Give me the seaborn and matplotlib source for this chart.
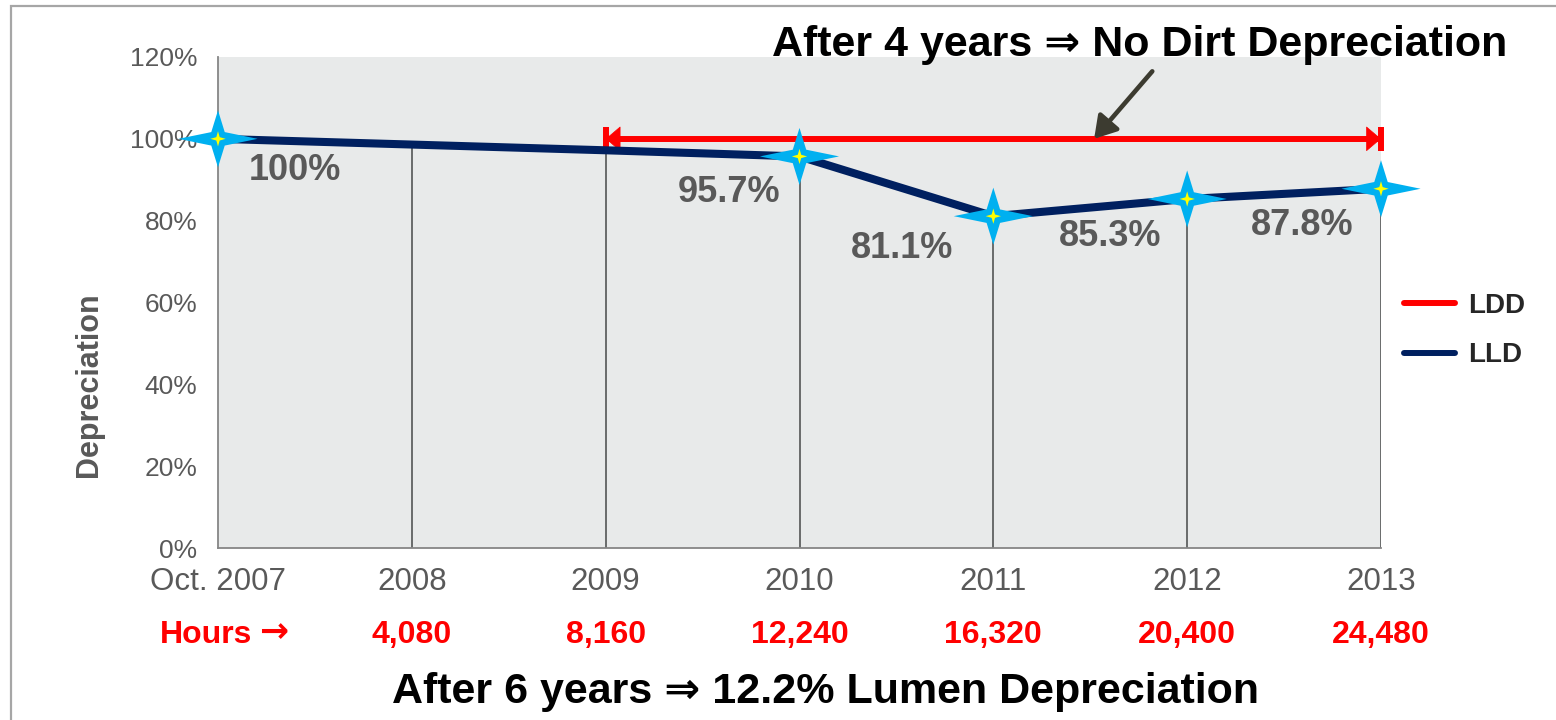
import numpy as np
import pandas as pd
import matplotlib
matplotlib.use("Agg")
import matplotlib.pyplot as plt
import seaborn as sns
from matplotlib.path import Path
from matplotlib.markers import MarkerStyle
from matplotlib.patches import Rectangle
from matplotlib.lines import Line2D
from matplotlib.transforms import blended_transform_factory


# ==========================================
# DATA
# ==========================================

years = ["Oct. 2007", "2008", "2009", "2010", "2011", "2012", "2013"]
hours = ["Hours \u2192", "4,080", "8,160", "12,240", "16,320", "20,400", "24,480"]

lld = [100, 98.6, 97.2, 95.7, 81.1, 85.3, 87.8]
lld_labels = ["100%", None, None, "95.7%", "81.1%", "85.3%", "87.8%"]

ldd_years = ["2009", "2010", "2011", "2012", "2013"]
ldd = [100, 100, 100, 100, 100]

y_ticks = [0, 20, 40, 60, 80, 100, 120]

top_note = "After 4 years \u21d2 No Dirt Depreciation"
bottom_note = "After 6 years \u21d2 12.2% Lumen Depreciation"

# label offsets in pixels (layout only)
label_offsets = [(77, -32), None, None, (-70, -36), (-91, -32), (-77, -38), (-79, -37)]


# ==========================================
# STYLE
# ==========================================

sns.set_style("white")
plt.rcParams["font.family"] = ["Liberation Sans", "DejaVu Sans"]

W, H = 1556, 720
grey_text = "#595959"
navy = "#002060"
cyan = "#00B0F0"

fig = plt.figure(figsize=(W / 100, H / 100), dpi=100)
ax = fig.add_axes([218 / W, 1 - 548 / H, 1163 / W, 491 / H])
ax.set_facecolor("#E8EAEA")

df = pd.DataFrame({
    "pos": np.arange(len(years)),
    "year": years,
    "lld": lld,
    "label": lld_labels,
})
ldd_df = pd.DataFrame({
    "pos": [years.index(y) for y in ldd_years],
    "ldd": ldd,
})
marked = df[df["label"].notna()]


# ==========================================
# MARKERS
# ==========================================

star_path = Path(
    [(-1, 0), (-0.17, 0.17), (0, 0.72), (0.17, 0.17), (1, 0),
     (0.17, -0.17), (0, -0.72), (-0.17, -0.17), (-1, 0)],
    [Path.MOVETO] + [Path.LINETO] * 7 + [Path.CLOSEPOLY],
)
small_star = Path(
    [(-1, 0), (-0.22, 0.22), (0, 1), (0.22, 0.22), (1, 0),
     (0.22, -0.22), (0, -1), (-0.22, -0.22), (-1, 0)],
    [Path.MOVETO] + [Path.LINETO] * 7 + [Path.CLOSEPOLY],
)


# ==========================================
# PLOT
# ==========================================

# drop lines
ax.vlines(df["pos"][1:], 0, df["lld"][1:], color="#5F6161", lw=1.3, zorder=1)

# LDD line with end bars and arrowheads
sns.lineplot(data=ldd_df, x="pos", y="ldd", color="red", lw=4.3,
             ax=ax, zorder=2, legend=False)
x0, x1 = ldd_df["pos"].min(), ldd_df["pos"].max()
ax.annotate("", xy=(x0, ldd_df["ldd"].iloc[0]), xytext=(x1, ldd_df["ldd"].iloc[-1]),
            arrowprops=dict(arrowstyle="<|-|>,head_length=10,head_width=8.5",
                            mutation_scale=1, color="red", lw=0.5,
                            shrinkA=0, shrinkB=0),
            zorder=3)
ax.plot([x0, x1], [ldd_df["ldd"].iloc[0], ldd_df["ldd"].iloc[-1]],
        linestyle="none", marker="|", markersize=17, mew=4.3,
        color="red", zorder=3, clip_on=False)

# LLD line
sns.lineplot(data=df, x="pos", y="lld", color=navy, lw=5.8,
             ax=ax, zorder=4, legend=False)

sns.scatterplot(data=marked, x="pos", y="lld", marker=MarkerStyle(star_path),
                s=57 ** 2, color=cyan, edgecolor="none", linewidth=0,
                ax=ax, zorder=5, clip_on=False, legend=False)
sns.scatterplot(data=marked, x="pos", y="lld", marker=MarkerStyle(small_star),
                s=11 ** 2, color="#FFFF00", edgecolor="none", linewidth=0,
                ax=ax, zorder=6, clip_on=False, legend=False)

# value labels
for i, row in df.iterrows():
    if row["label"] is None:
        continue
    ax.annotate(row["label"], (row["pos"], row["lld"]),
                xytext=label_offsets[i], textcoords="offset pixels",
                ha="center", va="center", fontsize=26, fontweight="bold",
                color=grey_text, zorder=7)

# pointer arrow to the LDD line
ax.annotate("", xy=(4.52, 100), xytext=(4.82, 116.5),
            arrowprops=dict(arrowstyle="-|>,head_length=1.3,head_width=0.8",
                            mutation_scale=10, color="#3C3B30", lw=3.3,
                            shrinkA=0, shrinkB=0),
            annotation_clip=False, zorder=8)


# ==========================================
# AXES
# ==========================================

ax.set_xlim(0, len(years) - 1)
ax.set_ylim(y_ticks[0], y_ticks[-1])

ax.set_xticks(df["pos"])
ax.set_xticklabels(years, fontsize=22.5, color=grey_text)
ax.set_yticks(y_ticks)
ax.set_yticklabels([f"{v}%" for v in y_ticks], fontsize=19, color=grey_text)

ax.tick_params(axis="x", length=0, pad=14)
ax.tick_params(axis="y", length=6, width=1.3, color="#868686", pad=9, direction="out")

for side in ["top", "right"]:
    ax.spines[side].set_visible(False)
for side in ["left", "bottom"]:
    ax.spines[side].set_color("#868686")
    ax.spines[side].set_linewidth(1.3)

ax.set_xlabel("")
ax.set_ylabel("Depreciation", fontsize=22, fontweight="bold", color=grey_text)
ax.yaxis.set_label_coords(-0.098, 0.332)

# hours row
trans = blended_transform_factory(ax.transData, fig.transFigure)
hours_y = 1 - 643 / H
word, arrow = hours[0].rsplit(" ", 1)
ax.annotate(word, (0, hours_y), xycoords=trans, xytext=(34, 0),
            textcoords="offset pixels", ha="right", va="baseline",
            fontsize=23, fontweight="bold", color="red")
ax.annotate(arrow, (0, hours_y), xycoords=trans, xytext=(41, 1),
            textcoords="offset pixels", ha="left", va="baseline",
            fontsize=25, fontweight="bold", color="red",
            family=["DejaVu Sans"])
for i, h in enumerate(hours[1:], start=1):
    ax.text(i, hours_y, h, transform=trans, ha="center", va="baseline",
            fontsize=23, fontweight="bold", color="red")


# ==========================================
# LEGEND, NOTES, FRAME
# ==========================================

handles = [Line2D([], [], color="red", lw=4.3), Line2D([], [], color=navy, lw=4.3)]
fig.legend(handles, ["LDD", "LLD"], loc="center left",
           bbox_to_anchor=(1404 / W, 1 - 330.5 / H), frameon=False,
           prop={"size": 20, "weight": "bold"}, handlelength=1.85,
           handletextpad=0.45, labelspacing=0.85, borderpad=0, borderaxespad=0)

fig.text(1140 / W, 1 - 56 / H, top_note, ha="center", va="baseline",
         fontsize=31, fontweight="bold", color="black")
fig.text(825 / W, 1 - 703 / H, bottom_note, ha="center", va="baseline",
         fontsize=31, fontweight="bold", color="black")

fig.add_artist(Rectangle((11 / W, -0.05), 1.0, 1 - 6 / H + 0.05,
                         transform=fig.transFigure, fill=False,
                         edgecolor="#A6A6A6", lw=1.6))

fig.savefig("out.png", dpi=100)
plt.close()
